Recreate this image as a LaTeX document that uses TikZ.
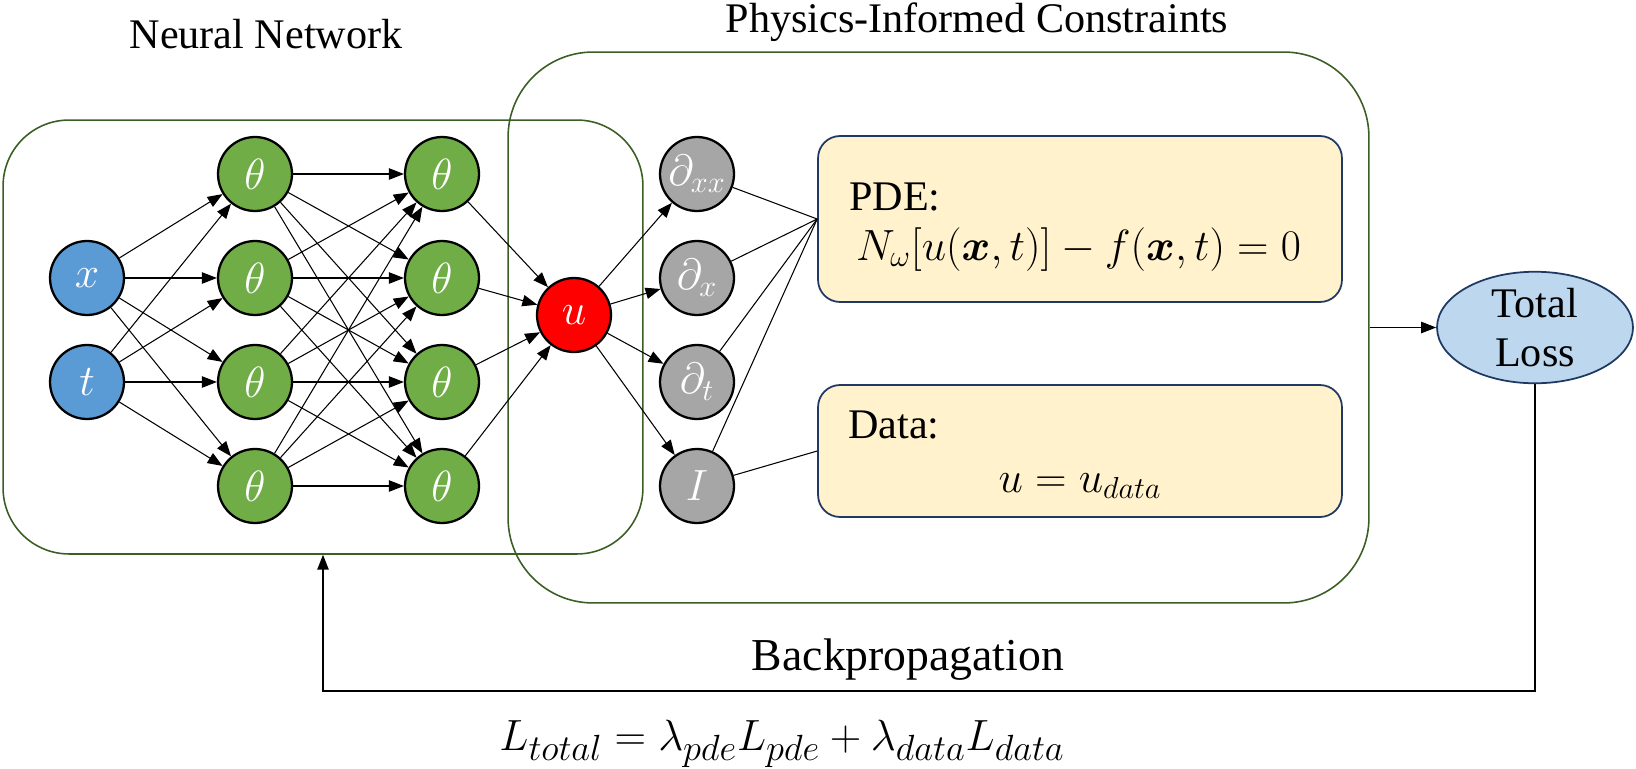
\documentclass[tikz,border=0pt]{standalone}
\usepackage{amsmath}
\usepackage{amssymb}
\usepackage{fontspec}
\setmainfont{Liberation Serif}
\usetikzlibrary{automata,positioning,arrows.meta,shapes.geometric}

\definecolor{inblue}{HTML}{5B9BD5}
\definecolor{hidgreen}{HTML}{70AD47}
\definecolor{dergray}{HTML}{A6A6A6}
\definecolor{boxgreen}{HTML}{3B5E24}
\definecolor{pdefill}{HTML}{FFF2CC}
\definecolor{pdeline}{HTML}{1F3864}
\definecolor{lossfill}{HTML}{BDD7EE}

\tikzset{
	->, % every connector is an arrow unless told otherwise
	>={Triangle[length=8.5pt,width=6.5pt]}, % filled triangle heads
	every state/.style={draw=black, line width=1.3pt, minimum size=1.48cm, inner sep=0pt, text=white, font=\fontsize{28}{30}\selectfont}, % neuron look
	inputnode/.style={state, fill=inblue},
	hiddennode/.style={state, fill=hidgreen, font=\fontsize{25}{28}\selectfont},
	outputnode/.style={state, fill=red},
	derivnode/.style={state, fill=dergray, font=\fontsize{25}{28}\selectfont},
	link/.style={line width=0.6pt},
	groupbox/.style={draw=boxgreen, line width=0.9pt, rectangle},
	termbox/.style={draw=pdeline, line width=1pt, fill=pdefill, rectangle, rounded corners=0.44cm, minimum width=10.48cm},
	caption/.style={font=\fontsize{24}{28}\selectfont},
	formula/.style={font=\fontsize{24}{28}\selectfont},
}

\begin{document}
\begin{tikzpicture}[x=0.02cm, y=-0.02cm]
	\useasboundingbox (0,0) rectangle (1636,768);

	% the two groups
	\node[groupbox, minimum width=17.22cm, minimum height=11.02cm, rounded corners=1.7cm] (pic) at (938.5,327.5) {};
	\node[groupbox, minimum width=12.8cm, minimum height=8.68cm, rounded corners=1.32cm] (nn) at (323,337) {};
	\node[caption, anchor=base] (nntitle) at (266,48) {Neural Network};
	\node[caption, anchor=base] (pictitle) at (977,32) {Physics-Informed Constraints};

	% network
	\node[inputnode] (x) at (87,278) {$x$};
	\node[inputnode] (t) at (87,382) {$t$};
	\foreach \i/\y in {1/174,2/278,3/382,4/486} {
		\node[hiddennode] (ha\i) at (255,\y) {$\theta$};
		\node[hiddennode] (hb\i) at (442,\y) {$\theta$};
	}
	\node[outputnode] (u) at (574,315) {$u$};
	\node[derivnode] (dxx) at (697,174) {$\partial_{xx}$};
	\node[derivnode] (dx) at (697,278) {$\partial_{x}$};
	\node[derivnode] (dt) at (697,382) {$\partial_{t}$};
	\node[derivnode] (id) at (697,486) {$I$};

	\foreach \i in {1,...,4} {
		\draw[link] (x) -- (ha\i);
		\draw[link] (t) -- (ha\i);
		\foreach \j in {1,...,4}
			\draw[link] (ha\i) -- (hb\j);
		\draw[link] (hb\i) -- (u);
	}
	\foreach \d in {dxx,dx,dt,id}
		\draw[link] (u) -- (\d);

	% loss terms
	\node[termbox, minimum height=3.32cm] (pde) at (1080,219) {};
	\node[termbox, minimum height=2.64cm] (data) at (1080,451) {};
	\node[caption, anchor=base west] (pdetitle) at (843,210) {PDE:};
	\node[formula, anchor=base west] (pdeeq) at (850,260) {$N_\omega[u(\boldsymbol{x},t)]-f(\boldsymbol{x},t)=0$};
	\node[caption, anchor=base west] (datatitle) at (842,438) {Data:};
	\node[formula, anchor=base, font=\fontsize{26}{30}\selectfont] (dataeq) at (1080,492) {$u=u_{data}$};

	\foreach \d in {dxx,dx,dt,id}
		\draw[link,-] (\d) -- (pde.west);
	\draw[link,-] (id) -- (data.west);

	% total loss and feedback
	\node[ellipse, draw=pdeline, line width=1pt, fill=lossfill, minimum width=3.92cm, minimum height=2.08cm, inner sep=0pt, align=center, caption] (loss) at (1535,327.5) {Total\\Loss};
	\draw[link] (pic.east) -- (loss);
	\draw[line width=0.8pt] (loss.south) -- ++(0,307) -| (nn.south);
	\node[caption, anchor=base, font=\fontsize{26}{30}\selectfont] (bptext) at (908,670) {Backpropagation};
	\node[formula, anchor=base, font=\fontsize{32}{36}\selectfont] (losseq) at (782,750) {$L_{total}=\lambda_{pde}L_{pde}+\lambda_{data}L_{data}$};
\end{tikzpicture}
\end{document}
